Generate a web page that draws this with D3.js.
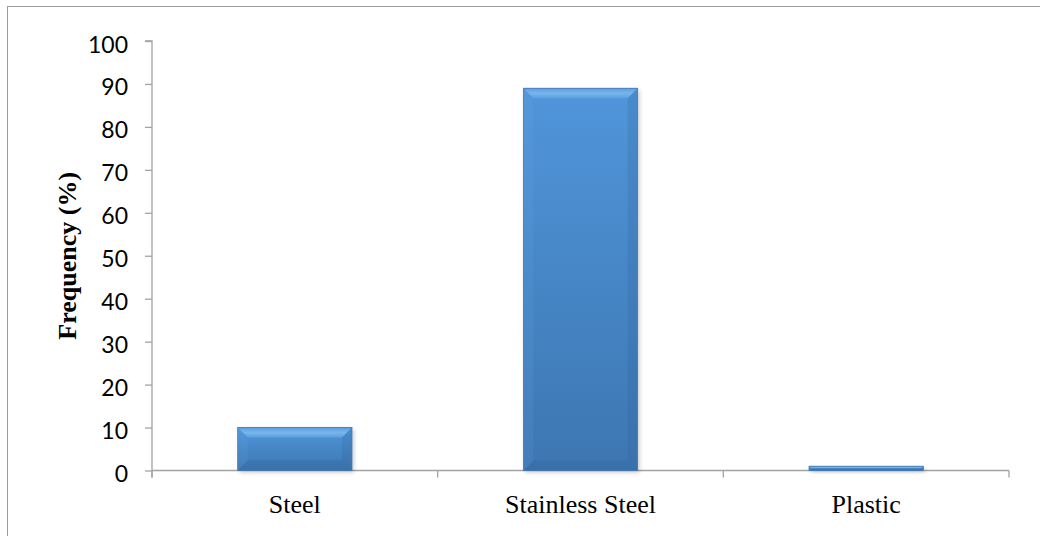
<!DOCTYPE html>
<html>
<head>
<meta charset="utf-8">
<script src="https://cdn.jsdelivr.net/npm/d3@7"></script>
<style>
  html, body { margin: 0; padding: 0; background: #fff; }
  svg { display: block; }
</style>
</head>
<body>
<svg id="chart" width="1040" height="536"></svg>
<script>
// Material frequency data
const categories = ["Steel", "Stainless Steel", "Plastic"];
const values = [10, 89, 1];
const yTicks = [0, 10, 20, 30, 40, 50, 60, 70, 80, 90, 100];
const yTitle = "Frequency (%)";

const svg = d3.select("#chart");
const W = 1040, H = 536;
const margin = { left: 152, right: 31, top: 41, bottom: 65.5 };

// outer frame (right and bottom edges fall outside the canvas)
svg.append("rect")
  .attr("x", 7.5).attr("y", 6.5)
  .attr("width", W + 20).attr("height", H + 20)
  .attr("fill", "none").attr("stroke", "#9c9c9c").attr("stroke-width", 1);

const x = d3.scaleBand()
  .domain(categories)
  .range([margin.left, W - margin.right])
  .paddingInner(0.6).paddingOuter(0.3);

const y = d3.scaleLinear()
  .domain([0, 100])
  .range([H - margin.bottom, margin.top]);

const axisColor = "#a3a3a3";

// y axis
const yAxis = svg.append("g")
  .attr("transform", `translate(${margin.left},0)`)
  .call(d3.axisLeft(y).tickValues(yTicks).tickSize(7).tickPadding(17));
yAxis.select(".domain").attr("stroke", axisColor).attr("stroke-width", 1.3)
  .attr("d", `M-7,${y(100)}H0V${y(0) + 7}`);
yAxis.selectAll(".tick line").attr("stroke", axisColor).attr("stroke-width", 1.3);
yAxis.selectAll(".tick text")
  .attr("fill", "#000")
  .attr("font-family", "Lato, 'Open Sans', sans-serif")
  .attr("font-size", 23)
  .attr("dy", "0.48em");

// x axis: ticks sit at the category boundaries
const xAxisG = svg.append("g")
  .attr("transform", `translate(0,${y(0)})`);
const x0 = margin.left, x1 = W - margin.right;
xAxisG.append("path")
  .attr("d", `M${x0},0H${x1}`)
  .attr("stroke", axisColor).attr("stroke-width", 1.3).attr("fill", "none");
const boundaries = d3.range(categories.length + 1).map(i => x0 + i * (x1 - x0) / categories.length);
xAxisG.selectAll("line.b").data(boundaries).join("line")
  .attr("x1", d => d).attr("x2", d => d)
  .attr("y1", 0).attr("y2", 7)
  .attr("stroke", axisColor).attr("stroke-width", 1.3);
xAxisG.selectAll("text.cat").data(categories).join("text")
  .attr("class", "cat")
  .attr("x", d => x(d) + x.bandwidth() / 2)
  .attr("y", 42.5)
  .attr("text-anchor", "middle")
  .attr("font-family", "'Liberation Serif', 'Times New Roman', serif")
  .attr("font-size", 26)
  .attr("fill", "#000")
  .text(d => d);

// y axis title
svg.append("text")
  .attr("transform", `translate(76,${(y(0) + y(100)) / 2}) rotate(-90)`)
  .attr("text-anchor", "middle")
  .attr("font-family", "'Liberation Serif', 'Times New Roman', serif")
  .attr("font-weight", "bold")
  .attr("font-size", 26)
  .attr("fill", "#000")
  .text(yTitle);

// gradients and shadow for the bevelled bars
const defs = svg.append("defs");
const body = defs.append("linearGradient").attr("id", "barBody")
  .attr("x1", 0).attr("y1", 0).attr("x2", 0).attr("y2", 1);
body.append("stop").attr("offset", "0%").attr("stop-color", "#5096da");
body.append("stop").attr("offset", "100%").attr("stop-color", "#3d76b2");

const topBevel = defs.append("linearGradient").attr("id", "barTop")
  .attr("x1", 0).attr("y1", 0).attr("x2", 0).attr("y2", 1);
topBevel.append("stop").attr("offset", "0%").attr("stop-color", "#5b9ddf");
topBevel.append("stop").attr("offset", "50%").attr("stop-color", "#78b5ec");
topBevel.append("stop").attr("offset", "100%").attr("stop-color", "#5c9fe0");

const shadow = defs.append("filter").attr("id", "barShadow")
  .attr("x", "-10%").attr("y", "-10%").attr("width", "130%").attr("height", "130%");
shadow.append("feGaussianBlur").attr("stdDeviation", 2);

const bars = svg.append("g");
categories.forEach((c, i) => {
  const v = values[i];
  const bx = x(c), bw = x.bandwidth();
  const by = y(v), bh = y(0) - y(v);
  const b = Math.min(10, bh / 2, bw / 2);
  const g = bars.append("g");

  // soft drop shadow
  g.append("rect")
    .attr("x", bx + 2).attr("y", by + 2)
    .attr("width", bw).attr("height", bh)
    .attr("fill", "#000").attr("opacity", 0.2)
    .attr("filter", "url(#barShadow)");

  g.append("rect")
    .attr("x", bx).attr("y", by).attr("width", bw).attr("height", bh)
    .attr("fill", "url(#barBody)");

  const poly = pts => pts.map(p => p.join(",")).join(" ");
  // left bevel
  g.append("polygon")
    .attr("points", poly([[bx, by], [bx + b, by + b], [bx + b, by + bh - b], [bx, by + bh]]))
    .attr("fill", "#6aaae6").attr("opacity", 0.15);
  // right bevel
  g.append("polygon")
    .attr("points", poly([[bx + bw, by], [bx + bw - b, by + b], [bx + bw - b, by + bh - b], [bx + bw, by + bh]]))
    .attr("fill", "#2c5d93").attr("opacity", 0.2);
  // bottom bevel
  g.append("polygon")
    .attr("points", poly([[bx, by + bh], [bx + b, by + bh - b], [bx + bw - b, by + bh - b], [bx + bw, by + bh]]))
    .attr("fill", "#2e5f96").attr("opacity", 0.25);
  // top bevel
  g.append("polygon")
    .attr("points", poly([[bx, by], [bx + bw, by], [bx + bw - b, by + b], [bx + b, by + b]]))
    .attr("fill", "url(#barTop)");

  g.append("rect")
    .attr("x", bx).attr("y", by).attr("width", bw).attr("height", bh)
    .attr("fill", "none").attr("stroke", "#4477ad").attr("stroke-width", 0.8);
});
</script>
</body>
</html>
